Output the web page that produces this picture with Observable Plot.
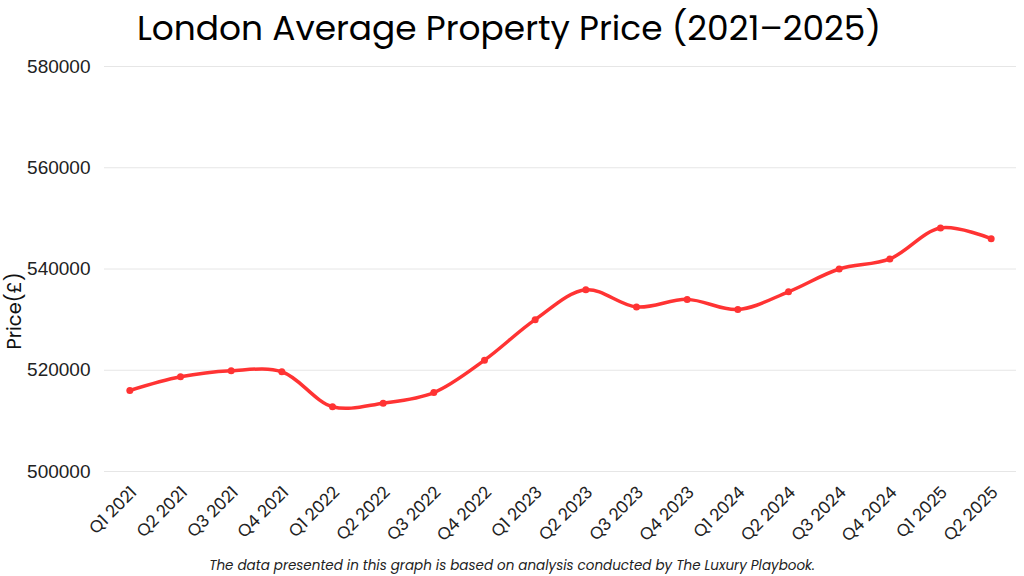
<!DOCTYPE html>
<html>
<head>
<meta charset="utf-8">
<script src="https://cdn.jsdelivr.net/npm/d3@7"></script>
<script src="https://cdn.jsdelivr.net/npm/@observablehq/plot@0.6"></script>
<style>
  html, body { margin: 0; padding: 0; background: #fff; }
  #wrap { width: 1024px; height: 576px; position: relative; overflow: hidden; }
  #title { position: absolute; left: 0; top: 3px; width: 1018px; text-align: center;
           font-family: "Poppins", "Inter", "Open Sans", sans-serif; font-size: 34.4px; color: #000; }
  #chart { position: absolute; left: 0; top: 52px; }
  #caption { position: absolute; left: 0; top: 556px; width: 1024px; text-align: center;
             font-family: "Poppins", "Inter", "Open Sans", sans-serif; font-style: italic;
             font-size: 13.5px; color: #222; }
</style>
</head>
<body>
<div id="wrap">
  <div id="title">London Average Property Price (2021–2025)</div>
  <div id="chart"></div>
  <div id="caption">The data presented in this graph is based on analysis conducted by The Luxury Playbook.</div>
</div>
<script>
const quarters = ["Q1 2021","Q2 2021","Q3 2021","Q4 2021","Q1 2022","Q2 2022","Q3 2022","Q4 2022",
  "Q1 2023","Q2 2023","Q3 2023","Q4 2023","Q1 2024","Q2 2024","Q3 2024","Q4 2024","Q1 2025","Q2 2025"];
const prices = [516000, 518700, 519900, 519700, 512800, 513500, 515600, 522000,
  530000, 535900, 532500, 534000, 532000, 535500, 540000, 542000, 548100, 546000];
const yTicks = [500000, 520000, 540000, 560000, 580000];

const data = quarters.map((q, i) => ({quarter: q, price: prices[i]}));

const chart = Plot.plot({
  width: 1024,
  height: 496,
  marginTop: 14,
  marginBottom: 77,
  marginLeft: 104,
  marginRight: 8,
  style: {fontFamily: "'Liberation Sans', Arial, sans-serif", fontSize: "16px", color: "#222", background: "#fff"},
  x: {type: "point", domain: quarters, padding: 0.5, round: false, label: null},
  y: {domain: [500000, 580000], ticks: yTicks, label: null},
  marks: [
    Plot.gridY(yTicks, {stroke: "#e6e6e6", strokeOpacity: 1, strokeWidth: 1}),
    Plot.axisY(yTicks, {tickSize: 0, tickPadding: 14, tickFormat: d3.format("d"), fontSize: 19, fill: "#222", label: null}),
    Plot.axisX({tickSize: 0, tickRotate: -45, tickPadding: 15, dx: 4, dy: 3, fontSize: 17, fill: "#222",
                fontFamily: "'Poppins', 'Inter', sans-serif", label: null}),
    Plot.line(data, {x: "quarter", y: "price", stroke: "#ff3333", strokeWidth: 3.5, curve: "catmull-rom"}),
    Plot.dot(data, {x: "quarter", y: "price", fill: "#ff3333", r: 3.5}),
    Plot.text(["Price(£)"], {frameAnchor: "left", textAnchor: "middle", dx: -90, dy: 42, rotate: -90,
                fontSize: 19.5, fill: "#111", fontFamily: "'Poppins', 'Inter', sans-serif"})
  ]
});
document.getElementById("chart").appendChild(chart);
</script>
</body>
</html>
